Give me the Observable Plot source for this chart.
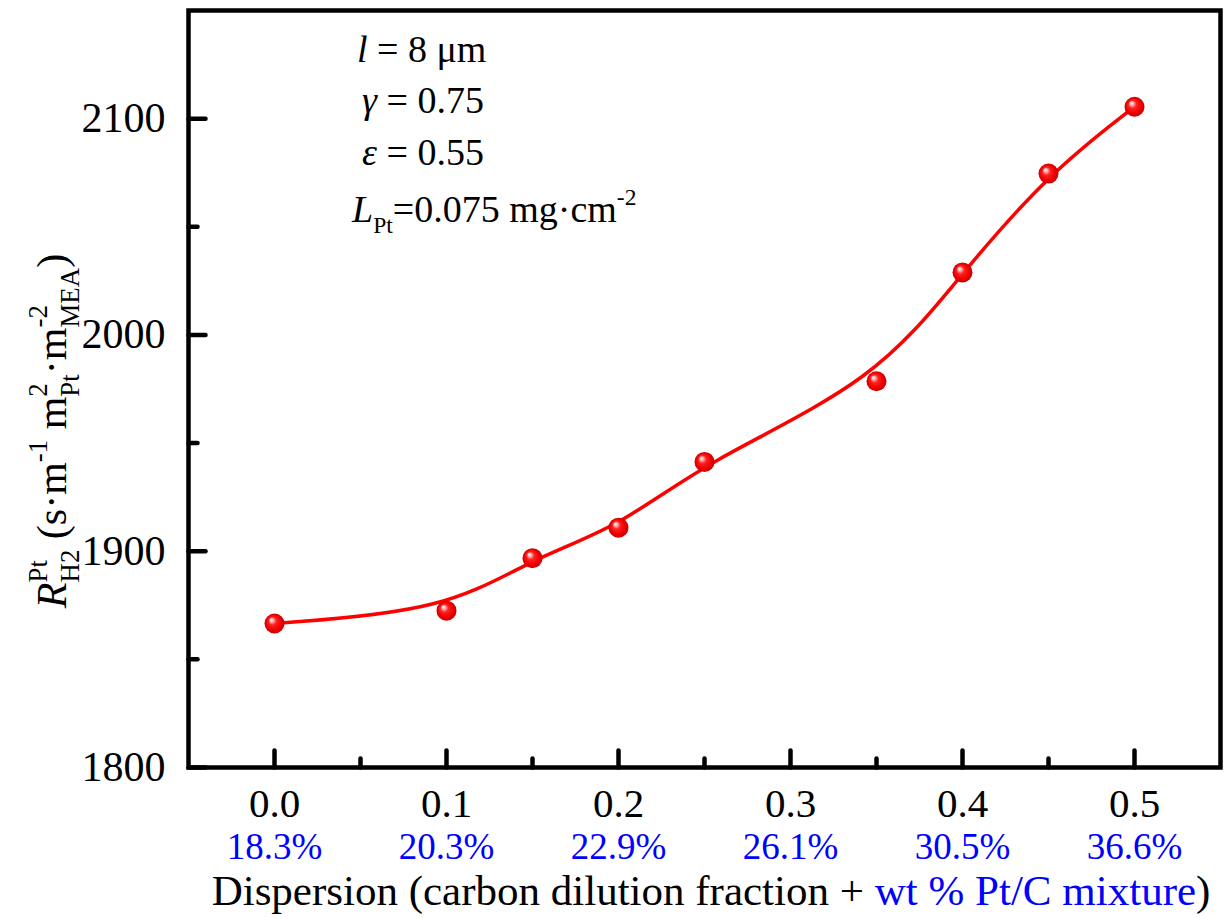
<!DOCTYPE html>
<html><head><meta charset="utf-8">
<script src="https://cdn.jsdelivr.net/npm/d3@7"></script>
<script src="https://cdn.jsdelivr.net/npm/@observablehq/plot@0.6"></script>
<style>body{margin:0;background:#fff}</style>
</head><body><div id="chart"></div>
<script>
const dilution = [0.0, 0.1, 0.15, 0.2, 0.25, 0.35, 0.4, 0.45, 0.5];
const resistance = [1866.6, 1872.5, 1896.8, 1910.9, 1941.3, 1978.6, 2028.9, 2074.6, 2105.5];
const xMajorTicks = [0, 0.1, 0.2, 0.3, 0.4, 0.5];
const xMinorTicks = [0.05, 0.15, 0.25, 0.35, 0.45];
const yMajorTicks = [1800, 1900, 2000, 2100];
const yMinorTicks = [1850, 1950, 2050];
const wtLabels = ["18.3%", "20.3%", "22.9%", "26.1%", "30.5%", "36.6%"];

const data = dilution.map((x, i) => ({x, y: resistance[i]}));
const font = "'Liberation Serif', 'Times New Roman', serif";
const tickShape = {draw(ctx, l) { ctx.moveTo(0, 0); ctx.lineTo(0, -l); }};
const tickOpts = {anchor: "start", shape: tickShape, stroke: "black", strokeWidth: 4.5, strokeLinecap: "round"};

const plot = Plot.plot({
  width: 1231, height: 918,
  marginLeft: 188, marginRight: 11, marginTop: 10, marginBottom: 151,
  x: {domain: [-0.05, 0.55], axis: null},
  y: {domain: [1800, 2150], axis: null},
  style: {fontFamily: font, background: "white", color: "black"},
  marks: [
    Plot.line(data, {x: "x", y: "y", curve: "basis", stroke: "#ff0000", strokeWidth: 3.5}),
    Plot.dot(data, {x: "x", y: "y", r: 10, fill: "url(#ball)", stroke: "none"}),
    Plot.vector(xMajorTicks, {x: d => d, frameAnchor: "bottom", length: 17, rotate: 0, ...tickOpts}),
    Plot.vector(xMinorTicks, {x: d => d, frameAnchor: "bottom", length: 9, rotate: 0, ...tickOpts}),
    Plot.vector(yMajorTicks, {y: d => d, frameAnchor: "left", length: 17, rotate: 90, ...tickOpts}),
    Plot.vector(yMinorTicks, {y: d => d, frameAnchor: "left", length: 9, rotate: 90, ...tickOpts}),
    Plot.frame({stroke: "black", strokeWidth: 4.5}),
    Plot.text(xMajorTicks, {x: d => d, text: d => d.toFixed(1), frameAnchor: "bottom", dy: 49, lineAnchor: "bottom", fontSize: 41, fill: "black"}),
    Plot.text(wtLabels, {x: (d, i) => xMajorTicks[i], text: d => d, frameAnchor: "bottom", dy: 91, lineAnchor: "bottom", fontSize: 37, fill: "#0000ff"}),
    Plot.text(yMajorTicks, {y: d => d, text: d => String(d), frameAnchor: "left", dx: -23, textAnchor: "end", fontSize: 42, fill: "black"})
  ]
});
document.getElementById("chart").append(plot);

const svg = d3.select(plot);
const defs = svg.insert("defs", ":first-child");
const grad = defs.append("radialGradient").attr("id", "ball")
  .attr("cx", "50%").attr("cy", "50%").attr("r", "50%").attr("fx", "33%").attr("fy", "30%");
[["0%", "#ffffff"], ["18%", "#ffb0b0"], ["40%", "#ff2020"], ["75%", "#f00000"], ["100%", "#c80000"]]
  .forEach(([o, c]) => grad.append("stop").attr("offset", o).attr("stop-color", c));

function rich(parent, runs, fs, anchor, ratio = 0.62) {
  const text = parent.append("text").attr("font-size", fs).attr("font-family", font)
    .attr("fill", "black").attr("text-anchor", anchor);
  let cur = 0, supLen = 0, pendingDx = 0;
  for (const r of runs) {
    const size = r.s ? fs * ratio : fs;
    const off = r.s === "sup" ? -0.45 * fs : r.s === "sub" ? 0.3 * fs : 0;
    const ts = text.append("tspan").text(r.t).attr("font-size", size).attr("dy", off - cur);
    if (r.i) ts.attr("font-style", "italic");
    if (r.c) ts.attr("fill", r.c);
    let dx = r.stack ? -supLen : pendingDx;
    if (dx) ts.attr("dx", dx);
    const len = ts.node().getComputedTextLength();
    pendingDx = r.stack ? Math.max(0, supLen - len) : 0;
    supLen = len;
    cur = off;
  }
  return text;
}

// y-axis title
rich(svg, [
  {t: "R", i: true}, {t: "Pt", s: "sup"}, {t: "H2", s: "sub", stack: true},
  {t: " (s·m"}, {t: "-1", s: "sup"}, {t: " m"}, {t: "2", s: "sup"}, {t: "Pt", s: "sub", stack: true},
  {t: "·m"}, {t: "-2", s: "sup"}, {t: "MEA", s: "sub", stack: true}, {t: ")"}
], 42, "middle", 0.64).attr("transform", "translate(66,431) rotate(-90)");

// x-axis title
rich(svg, [
  {t: "Dispersion (carbon dilution fraction + "}, {t: "wt % Pt/C mixture", c: "#0000ff"}, {t: ")"}
], 43, "middle").attr("transform", "translate(711,905)");

// annotations
rich(svg, [{t: "l", i: true}, {t: " = 8 μm"}], 38, "start").attr("transform", "translate(357,62)");
rich(svg, [{t: "γ", i: true}, {t: " = 0.75"}], 38, "start").attr("transform", "translate(362,113)");
rich(svg, [{t: "ε", i: true}, {t: " = 0.55"}], 38, "start").attr("transform", "translate(362,165)");
rich(svg, [{t: "L", i: true}, {t: "Pt", s: "sub"}, {t: "=0.075 mg·cm"}, {t: "-2", s: "sup"}], 38, "start").attr("transform", "translate(352,222)");
</script>
</body></html>
